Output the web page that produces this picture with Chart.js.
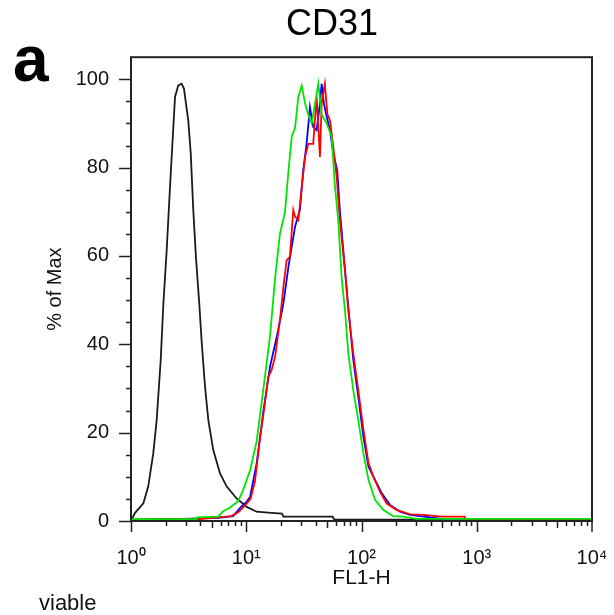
<!DOCTYPE html>
<html lang="en">
<head>
  <meta charset="UTF-8" />
  <title>CD31</title>
  <script src="https://cdn.jsdelivr.net/npm/chart.js"></script>
  <style>
    body {
      margin: 0;
      background: #fff;
      font-family: 'Liberation Sans', Arial, sans-serif;
    }
    #wrap {
      position: relative;
      width: 614px;
      height: 615px;
    }
    .panel-letter {
      position: absolute;
      left: 13px;
      top: 27px;
      font-size: 64px;
      font-weight: bold;
      line-height: 64px;
      color: #000;
    }
    .note {
      position: absolute;
      left: 39px;
      top: 593px;
      font-size: 22px;
      line-height: 20px;
      color: #111;
    }
  </style>
</head>
<body>
  <div id="wrap">
    <canvas id="histo" width="614" height="615"></canvas>
    <div class="panel-letter">a</div>
    <div class="note">viable</div>
  </div>

  <script>
    // axis ticks
    const xTickValues = [1, 10, 100, 1000, 10000];
    const xTickLabels = ['10⁰', '10¹', '10²', '10³', '10⁴'];
    const yTickValues = [0, 20, 40, 60, 80, 100];

    // black - unstained / isotype
    const blackX = [1.0, 1.03, 1.08, 1.28, 1.41, 1.56, 1.67, 1.81, 1.91, 2.04, 2.18, 2.33, 2.41, 2.57, 2.75, 2.88,
      3.0, 3.14, 3.30, 3.47, 3.66, 3.91, 4.11, 4.39, 4.69, 5.18, 5.92, 6.77, 8.26, 10.1, 12.3, 15.5, 20.4, 21.0,
      56, 58, 500, 520];
    const blackY = [0.3, 0.7, 1.8, 4, 7.8, 15.3, 22.8, 36.4, 49.3, 61.3, 75.6, 89.2, 96, 98.6, 99, 97.9,
      94.5, 90.7, 83.2, 70.4, 59.8, 49.3, 40.3, 30.4, 22.8, 16, 10.8, 7.8, 5.1, 3.2, 2.1, 1.9, 1.7, 1.0,
      1.0, 0.3, 0.3, 0];

    // green
    const greenX = [1.0, 3.7, 3.75, 5.7, 6.3, 7.2, 8.5, 9.4, 10.8, 12.3, 14.1, 16.1, 17.8, 19.6, 21.7, 23.2,
      24.8, 26.5, 28.3, 30.3, 32.4, 34.5, 37.0, 39.5, 42.2, 45.1, 49.9, 55.1, 58.9, 62.9, 67.3, 71.9, 76.8,
      84.9, 93.8, 104, 115, 131, 155, 189, 231, 300, 10000];
    const greenY = [0.4, 0.4, 0.8, 1.0, 2.2, 3.0, 4.5, 7, 11.5, 18, 30, 42, 55, 65, 70, 79,
      87, 89, 96, 98.6, 94.5, 92, 90, 94.5, 99, 92, 90, 87, 75.6, 68, 55, 47.7, 38,
      29.6, 22.8, 15.3, 9.3, 4.8, 2.5, 1.1, 1.0, 0.5, 0.5];

    // blue
    const blueX = [1.0, 2.8, 5.8, 7.7, 8.8, 10.1, 10.8, 12.3, 14.1, 16.1, 18.4, 21.0, 23.2, 26.5, 29.2, 31.2,
      33.4, 35.7, 38.1, 40.8, 43.6, 45.1, 47.2, 49.9, 53.3, 56.9, 61.6, 64.9, 71.9, 76.8, 84.9, 93.8,
      104, 115, 131, 150, 177, 216, 264, 500, 10000];
    const blueY = [0.3, 0.5, 0.7, 1.1, 2.9, 4.4, 5.5, 13, 25, 35, 41.7, 49.2, 57.5, 66.6, 70.4, 79.4,
      85.4, 93.7, 89.2, 88.5, 94.5, 99, 94.5, 91.5, 88.5, 83.2, 79.4, 70.4, 56.8, 48.5, 36.4, 28.1,
      19, 12.3, 9.3, 6.3, 3.6, 2.1, 1.4, 0.5, 0.3];

    // red
    const redX = [1.0, 2.95, 3.7, 5.7, 7.4, 8.1, 8.8, 10.1, 10.9, 11.9, 13.2, 14.5, 15.5, 16.6, 17.8, 19.6,
      21.0, 22.4, 23.9, 25.6, 26.5, 28.3, 30.3, 32.4, 34.5, 38.1, 40.8, 42.2, 43.6, 45.1, 48.1, 50.5,
      53.3, 56.9, 60.9, 64.9, 71.9, 76.8, 84.9, 93.8, 104, 115, 127, 145, 165, 201, 264, 344, 400,
      500, 780, 790, 10000];
    const redY = [0.3, 0.4, 0.4, 0.8, 1.1, 1.6, 2.3, 4.0, 5.0, 9, 19, 26.6, 32.6, 34.2, 37.2, 45.5,
      53, 59, 59.8, 70.4, 68.9, 68.1, 75.6, 82.4, 85.4, 85.4, 96, 89.2, 82.4, 94.5, 99, 92.2,
      90.7, 84.7, 77.9, 68.1, 56.8, 47.7, 37.9, 29.6, 20.6, 13.1, 10, 6.6, 4, 2.5, 1.5, 1.4, 1.2,
      1.0, 1.0, 0.3, 0.3];

    function toPoints(xs, ys) {
      return xs.map((x, i) => ({ x: x, y: ys[i] }));
    }

    function series(label, xs, ys, color, order) {
      return {
        label: label,
        data: toPoints(xs, ys),
        borderColor: color,
        borderWidth: 1.8,
        pointRadius: 0,
        tension: 0,
        fill: false,
        order: order
      };
    }

    // frame + tick marks (outside the box)
    const axisMarks = {
      id: 'axisMarks',
      afterDraw(chart) {
        const { ctx, chartArea: a, scales: { x, y } } = chart;
        ctx.save();
        ctx.strokeStyle = '#222';
        ctx.lineWidth = 2;
        ctx.strokeRect(a.left, a.top, a.right - a.left, a.bottom - a.top);

        ctx.lineWidth = 1.5;
        ctx.beginPath();
        for (let v = 0; v <= 100; v += 5) {
          const py = Math.round(y.getPixelForValue(v)) + 0.5;
          const len = v % 20 === 0 ? 12 : 5;
          ctx.moveTo(a.left - len, py);
          ctx.lineTo(a.left, py);
        }
        for (let d = 1; d < 10000; d *= 10) {
          for (let k = 1; k <= 9; k++) {
            const px = Math.round(x.getPixelForValue(k * d)) + 0.5;
            const len = k === 1 ? 11 : (k === 5 ? 7 : 5);
            ctx.moveTo(px, a.bottom);
            ctx.lineTo(px, a.bottom + len);
          }
        }
        const pEnd = Math.round(x.getPixelForValue(10000));
        ctx.moveTo(pEnd, a.bottom);
        ctx.lineTo(pEnd, a.bottom + 11);
        ctx.stroke();
        ctx.restore();
      }
    };

    Chart.defaults.font.family = "'Liberation Sans', Arial, sans-serif";
    Chart.defaults.color = '#111';

    new Chart(document.getElementById('histo'), {
      type: 'line',
      data: {
        datasets: [
          series('green', greenX, greenY, '#00e400', 0),
          series('red', redX, redY, '#ff0000', 1),
          series('blue', blueX, blueY, '#0000ff', 2),
          series('black', blackX, blackY, '#1a1a1a', 3)
        ]
      },
      options: {
        responsive: false,
        animation: false,
        // left padding pushes the title centre over the plot; y axis width is trimmed to match
        layout: { padding: { left: 72, right: 22, top: 0, bottom: 0 } },
        plugins: {
          legend: { display: false },
          tooltip: { enabled: false },
          title: {
            display: true,
            text: 'CD31',
            color: '#000',
            font: { size: 36, weight: 'normal' },
            padding: { top: 3, bottom: 11 }
          }
        },
        scales: {
          x: {
            type: 'logarithmic',
            min: 1,
            max: 10000,
            grid: { display: false, drawTicks: false },
            border: { display: false },
            afterBuildTicks: s => { s.ticks = xTickValues.map(v => ({ value: v })); },
            afterFit: s => {
              s.height = 94;
              s.paddingLeft = 0;
              s.paddingRight = 0;
            },
            ticks: {
              autoSkip: false,
              maxRotation: 0,
              padding: 25,
              font: { size: 20 },
              callback: (v, i) => xTickLabels[i]
            },
            title: {
              display: true,
              text: 'FL1-H',
              font: { size: 21 },
              padding: { top: 0, bottom: 24 }
            }
          },
          y: {
            min: 0,
            max: 105,
            grid: { display: false, drawTicks: false },
            border: { display: false },
            afterBuildTicks: s => { s.ticks = yTickValues.map(v => ({ value: v })); },
            afterFit: s => { s.width = 59; },
            ticks: {
              padding: 22,
              font: { size: 20 }
            },
            title: {
              display: true,
              text: '% of Max',
              font: { size: 20 },
              padding: { top: -29, bottom: 0 }
            }
          }
        }
      },
      plugins: [axisMarks]
    });
  </script>
</body>
</html>
